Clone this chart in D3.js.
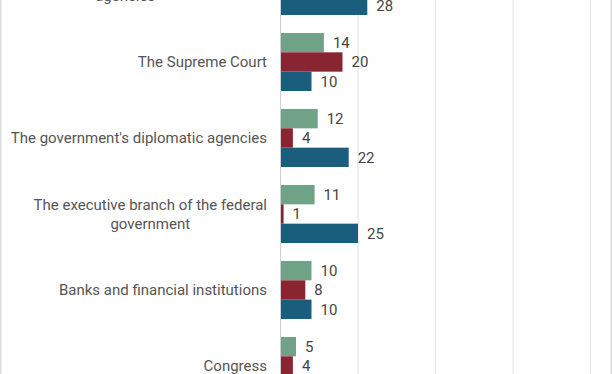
<!DOCTYPE html>
<html>
<head>
<meta charset="utf-8">
<script src="https://cdn.jsdelivr.net/npm/d3@7.9.0/dist/d3.min.js"></script>
<style>
  html, body { margin: 0; padding: 0; background: #fff; }
  svg { display: block; font-family: Roboto, "Noto Sans", sans-serif; }
</style>
</head>
<body>
<svg id="chart" width="612" height="374"></svg>
<script>
// data
const categories = [
  "The federal government's law enforcement agencies",
  "The Supreme Court",
  "The government's diplomatic agencies",
  "The executive branch of the federal government",
  "Banks and financial institutions",
  "Congress"
];
const seriesNames = ['Series A', 'Series B', 'Series C'];
const seriesA = [16, 14, 12, 11, 10, 5];
const seriesB = [18, 20, 4, 1, 8, 4];
const seriesC = [28, 10, 22, 25, 10, 6];
const xTicks = [0, 25, 50, 75, 100];
const colors = ['#70a288', '#892431', '#1a5e7e'];

const rows = categories.map((c, i) => ({
  category: c,
  values: [seriesA[i], seriesB[i], seriesC[i]]
}));

const svg = d3.select('#chart');
const W = 612, H = 374;

// the chart is cropped: the first group starts above the top edge
let x = d3.scaleLinear().domain([0, 100]).range([280.5, 590.5]);
let y0 = d3.scaleBand()
  .domain(categories)
  .range([-52, -52 + categories.length * 76])
  .paddingInner(0.2368)
  .paddingOuter(0.1184);
let y1 = d3.scaleBand()
  .domain(seriesNames)
  .range([0, y0.bandwidth()]);

// grid
svg.append('g')
  .selectAll('line')
  .data(xTicks.slice(1))
  .join('line')
  .attr('x1', d => x(d)).attr('x2', d => x(d))
  .attr('y1', 0).attr('y2', H)
  .attr('stroke', '#e4e4e4')
  .attr('stroke-width', 1.2);

// frame
svg.append('line').attr('x1', 0.75).attr('x2', 0.75).attr('y1', 0).attr('y2', H)
  .attr('stroke', '#dcdcdc').attr('stroke-width', 1.5);
svg.append('line').attr('x1', W - 0.75).attr('x2', W - 0.75).attr('y1', 0).attr('y2', H)
  .attr('stroke', '#dcdcdc').attr('stroke-width', 1.5);

// bars
const groups = svg.append('g')
  .selectAll('g')
  .data(rows)
  .join('g')
  .attr('transform', d => `translate(0,${y0(d.category)})`);

groups.selectAll('rect')
  .data(d => d.values.map((v, i) => ({ key: seriesNames[i], value: v, idx: i })))
  .join('rect')
  .attr('x', x(0))
  .attr('y', d => y1(d.key))
  .attr('width', d => x(d.value) - x(0))
  .attr('height', y1.bandwidth())
  .attr('fill', d => colors[d.idx]);

groups.selectAll('text.val')
  .data(d => d.values.map((v, i) => ({ key: seriesNames[i], value: v })))
  .join('text')
  .attr('class', 'val')
  .attr('x', d => x(d.value) + 9)
  .attr('y', d => y1(d.key) + y1.bandwidth() / 2)
  .attr('dy', '0.36em')
  .attr('font-size', 15)
  .attr('fill', '#444')
  .text(d => d.value);

// axis line at zero
svg.append('line')
  .attr('x1', x(0)).attr('x2', x(0))
  .attr('y1', 0).attr('y2', H)
  .attr('stroke', '#cfcfcf')
  .attr('stroke-width', 1);

// category labels, wrapped and right-aligned as a block
const labelRight = 267;
const maxWidth = 300;
const lineH = 19;

rows.forEach(r => {
  const cy = y0(r.category) + y0.bandwidth() / 2;
  const t = svg.append('text')
    .attr('font-size', 15)
    .attr('fill', '#555')
    .attr('text-anchor', 'middle');
  const words = r.category.split(' ');
  let lines = [];
  let line = [];
  const probe = t.append('tspan');
  words.forEach(w => {
    line.push(w);
    probe.text(line.join(' '));
    if (probe.node().getComputedTextLength() > maxWidth && line.length > 1) {
      line.pop();
      lines.push(line.join(' '));
      line = [w];
    }
  });
  lines.push(line.join(' '));
  let widest = 0;
  lines.forEach(l => {
    probe.text(l);
    widest = Math.max(widest, probe.node().getComputedTextLength());
  });
  probe.remove();
  const cx = labelRight - widest / 2;
  const top = cy - (lines.length - 1) * lineH / 2;
  lines.forEach((l, i) => {
    t.append('tspan')
      .attr('x', cx)
      .attr('y', top + i * lineH)
      .attr('dy', '0.36em')
      .text(l);
  });
});
</script>
</body>
</html>
